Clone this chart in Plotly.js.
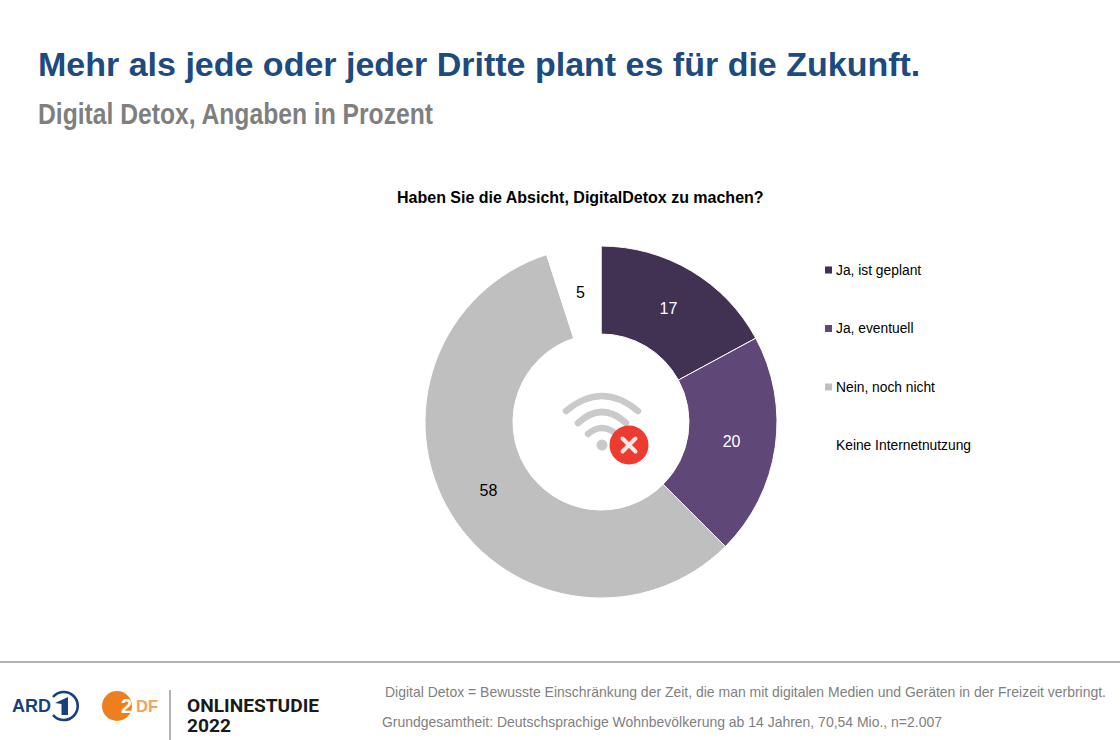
<!DOCTYPE html>
<html><head><meta charset="utf-8">
<script src="https://cdn.plot.ly/plotly-3.0.1.min.js"></script>
<style>html,body{margin:0;padding:0;background:#fff}</style></head>
<body><div id="chart" style="width:1120px;height:740px"></div>
<script>
const categories = ["Ja, ist geplant","Ja, eventuell","Nein, noch nicht","Keine Internetnutzung"];
const values = [17.1,20.4,57.5,5];
const valueLabels = ["17","20","58","5"];
const sliceColors = ["#413152","#5f4777","#bfbfbf","#ffffff"];
const labelColors = ["#ffffff","#ffffff","#000000","#000000"];
const legendRows = [270,328.5,387,445.5];
const W=1120,H=740;
const px=x=>x/W, py=y=>1-y/H;
const SANS='"Liberation Sans",Arial,sans-serif';
const note=(text,x,y,size,color,opts={})=>Object.assign({text:text,x:px(x),y:py(y),xref:'paper',yref:'paper',showarrow:false,
  xanchor:'left',yanchor:'middle',align:'left',borderpad:0,
  font:{family:SANS,size:size,color:color}},opts);
const bold=s=>'<b>'+s+'</b>';
const line=(x0,y0,x1,y1,color,w)=>({type:'line',xref:'paper',yref:'paper',x0:px(x0),y0:py(y0),x1:px(x1),y1:py(y1),line:{color:color,width:w}});
const circle=(cx,cy,r,fill)=>({type:'circle',xref:'paper',yref:'paper',x0:px(cx-r),x1:px(cx+r),y0:py(cy-r),y1:py(cy+r),fillcolor:fill,line:{width:0}});
const rect=(x,y,s,fill)=>({type:'rect',xref:'paper',yref:'paper',x0:px(x),x1:px(x+s),y0:py(y),y1:py(y+s),fillcolor:fill,line:{width:0}});

const wifiSvg='<svg xmlns="http://www.w3.org/2000/svg" width="100" height="80" viewBox="0 0 100 80">'+
 '<g fill="none" stroke="#cacaca" stroke-width="6.5" stroke-linecap="round">'+
 '<path d="M9 21 Q45 -9 81 21"/><path d="M21 33 Q45 11 69 33"/><path d="M31 44 Q45 32 59 44"/></g>'+
 '<circle cx="45" cy="55" r="5.5" fill="#cacaca"/>'+
 '<circle cx="72" cy="55" r="19.5" fill="#ee3b2f"/>'+
 '<path d="M65.5 48.5 L78.5 61.5 M78.5 48.5 L65.5 61.5" stroke="#fbe9e7" stroke-width="4" stroke-linecap="round"/></svg>';
const ardSvg='<svg xmlns="http://www.w3.org/2000/svg" width="40" height="40" viewBox="0 0 40 40">'+
 '<path d="M8.5 11 A14 14 0 1 1 8.5 29" fill="none" stroke="#16417f" stroke-width="2.6"/>'+
 '<path d="M10.5 17 L23.5 11 L23.5 29 L17 29 L17 18 Z" fill="#16417f"/></svg>';

const fit=[];
const fitted=(ann,len)=>{fit.push([ann.text,len]);return ann;};
const footColor='#7f7f7f';
const annotations=[
 note(bold("Mehr als jede oder jeder Dritte plant es für die Zukunft."),37,64,34,'#1d4a7f'),
 fitted(note(bold("Digital Detox, Angaben in Prozent"),37,114,29,'#7f7f7f'),395),
 note(bold("Haben Sie die Absicht, DigitalDetox zu machen?"),580.5,197,16,'#000000',{xanchor:'center'}),
 fitted(note("Digital Detox = Bewusste Einschränkung der Zeit, die man mit digitalen Medien und Geräten in der Freizeit verbringt.",384,692,14.2,footColor),721),
 fitted(note("Grundgesamtheit: Deutschsprachige Wohnbevölkerung ab 14 Jahren, 70,54 Mio., n=2.007",381,722,14.2,footColor),560),
 note(valueLabels[3],580,292,16,labelColors[3],{xanchor:'center'}),
 note(bold("ARD"),11,706,18,'#16417f'),
 note(bold("2"),120,706,20,'#ffffff'),
 note(bold("DF"),135,706,16.5,'#f5a25d'),
 fitted(note(bold("ONLINESTUDIE"),186,705.5,17.5,'#1a1a1a',{font:{family:'Roboto,sans-serif',size:17.5,color:'#1a1a1a'}}),132),
 fitted(note(bold("2022"),186,725.5,17.5,'#1a1a1a',{font:{family:'Roboto,sans-serif',size:17.5,color:'#1a1a1a'}}),44)
].concat(categories.map((c,i)=>note(c,834.5,legendRows[i],13.8,'#000000')));

const shapes=[
 line(0,662,1120,662,'#9a9a9a',1.5),
 line(170,690,170,740,'#9a9a9a',1.5),
 circle(117,706,15,'#ee7f1f')
].concat(categories.map((c,i)=>rect(825,legendRows[i]-3.5,7,sliceColors[i])));

const images=[
 {source:'data:image/svg+xml;utf8,'+encodeURIComponent(wifiSvg),xref:'paper',yref:'paper',x:px(557),y:py(390),sizex:100/W,sizey:80/H,xanchor:'left',yanchor:'top',sizing:'stretch',layer:'above'},
 {source:'data:image/svg+xml;utf8,'+encodeURIComponent(ardSvg),xref:'paper',yref:'paper',x:px(44.5),y:py(686),sizex:40/W,sizey:40/H,xanchor:'left',yanchor:'top',sizing:'stretch',layer:'above'}
];

Plotly.newPlot('chart',[{
 type:'pie',labels:categories,values:values,hole:0.5,sort:false,direction:'clockwise',rotation:0,
 marker:{colors:sliceColors,line:{color:'#ffffff',width:1}},
 text:valueLabels,textinfo:'text',textposition:['inside','inside','inside','none'],insidetextorientation:'horizontal',
 textfont:{family:SANS,size:16,color:labelColors},
 domain:{x:[425/W,777/W],y:[(H-598)/H,(H-246)/H]},hoverinfo:'label+text'
}],{
 width:W,height:H,margin:{l:0,r:0,t:0,b:0},paper_bgcolor:'#fff',plot_bgcolor:'#fff',showlegend:false,
 annotations:annotations,shapes:shapes,images:images
},{displayModeBar:false,staticPlot:true}).then(()=>{
 const strip=s=>s.replace(/<[^>]+>/g,'');
 document.querySelectorAll('#chart .annotation-text').forEach(t=>{
  const hit=fit.find(f=>strip(f[0])===t.textContent);
  if(!hit) return;
  const left=t.getBoundingClientRect().left;
  t.setAttribute('textLength',hit[1]);
  t.setAttribute('lengthAdjust','spacingAndGlyphs');
  const moved=t.getBoundingClientRect().left;
  t.setAttribute('x',parseFloat(t.getAttribute('x')||0)+left-moved);
  const box=t.closest('.annotation').querySelector('rect.bg');
  if(box) box.setAttribute('width',hit[1]);
 });
});
</script></body></html>
